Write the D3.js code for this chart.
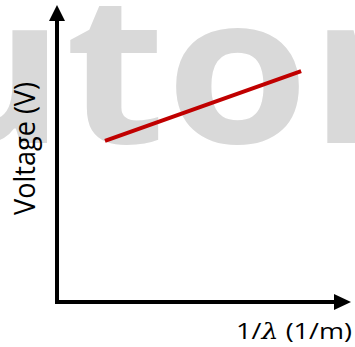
<!DOCTYPE html>
<html>
<head>
<meta charset="utf-8">
<script src="https://cdn.jsdelivr.net/npm/d3@7"></script>
<style>
  html, body { margin: 0; padding: 0; background: #fff; }
  svg { display: block; }
</style>
</head>
<body>
<script>
// Data
const lineX = [1.72, 8.75];
const lineY = [5.71, 8.19];
const xLabel = ["1/", "λ", " (1/m)"];
const yLabel = "Voltage (V)";
const watermark = "utor";

const W = 355, H = 347;
const svg = d3.select("body").append("svg").attr("width", W).attr("height", H);

const x = d3.scaleLinear().domain([0, 10]).range([57, 336]);
const y = d3.scaleLinear().domain([0, 10]).range([302, 20]);

// watermark
const wmG = svg.append("g").attr("transform", "translate(65,143) scale(1.12,1)");
const wm = wmG.append("text")
  .attr("x", 0).attr("y", 0)
  .attr("font-family", "Open Sans").attr("font-weight", 700)
  .attr("font-size", 207).attr("fill", "#d9d9d9")
  .text(watermark);
const tStart = wm.node().getStartPositionOfChar(1).x;
wm.attr("x", -tStart);

// axes
const ax = svg.append("g");
ax.append("line").attr("x1", x(0) - 2).attr("x2", x(10)).attr("y1", y(0)).attr("y2", y(0))
  .attr("stroke", "#000").attr("stroke-width", 4);
ax.append("line").attr("x1", x(0)).attr("x2", x(0)).attr("y1", y(0) + 2).attr("y2", y(10))
  .attr("stroke", "#000").attr("stroke-width", 4);
// arrowheads
ax.append("path")
  .attr("d", `M${x(10) - 2},${y(0) - 8} L${x(10) + 15},${y(0)} L${x(10) - 2},${y(0) + 8} Z`)
  .attr("fill", "#000");
ax.append("path")
  .attr("d", `M${x(0) - 8},${y(10) + 1} L${x(0)},${y(10) - 15} L${x(0) + 8},${y(10) + 1} Z`)
  .attr("fill", "#000");

// red line
const pts = lineX.map((d, i) => [d, lineY[i]]);
svg.append("path")
  .datum(pts)
  .attr("d", d3.line().x(d => x(d[0])).y(d => y(d[1])))
  .attr("stroke", "#c00000").attr("stroke-width", 4).attr("fill", "none");

// y label
const ylG = svg.append("g").attr("transform", "translate(35,148.5) scale(1.08,1) rotate(-90)");
const yl = ylG.append("text")
  .attr("text-anchor", "middle")
  .attr("font-family", "Open Sans").attr("font-size", 26).attr("fill", "#000")
  .text(yLabel);
const ylen = yl.node().getComputedTextLength();
yl.attr("font-size", 26 * 133 / ylen);

// x label
const xlG = svg.append("g").attr("transform", "translate(352,339)");
const xl = xlG.append("text")
  .attr("x", 0).attr("y", 0)
  .attr("text-anchor", "end")
  .attr("font-family", "Open Sans").attr("font-size", 22).attr("fill", "#000");
xl.append("tspan").text(xLabel[0]);
xl.append("tspan").attr("font-family", "DejaVu Serif").attr("font-style", "italic").text(xLabel[1]);
xl.append("tspan").text(xLabel[2]);
const xlen = xl.node().getComputedTextLength();
xlG.attr("transform", `translate(352,339) scale(${116 / xlen},1)`);
</script>
</body>
</html>
